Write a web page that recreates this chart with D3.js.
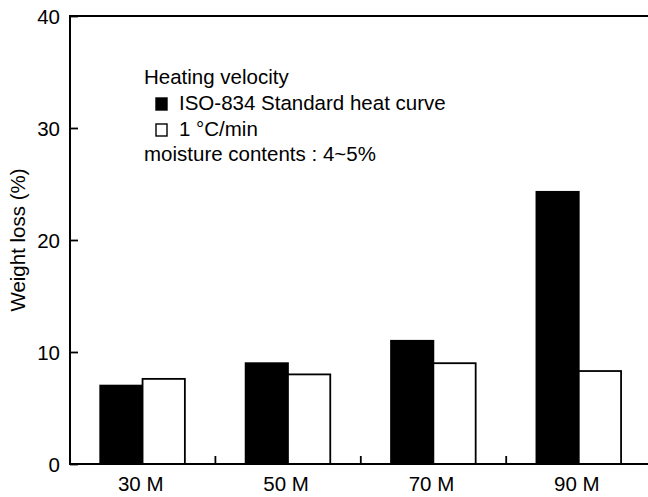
<!DOCTYPE html>
<html>
<head>
<meta charset="utf-8">
<script src="https://cdn.jsdelivr.net/npm/d3@7"></script>
<style>
  html, body { margin: 0; padding: 0; background: #fff; }
  svg { display: block; }
  text { font-family: "Liberation Sans", Arial, sans-serif; fill: #000; }
</style>
</head>
<body>
<svg id="chart" width="648" height="497"></svg>
<script>
// ---- data ----
const categories = ["30 M", "50 M", "70 M", "90 M"];
const seriesNames = ["ISO-834 Standard heat curve", "1 °C/min"];
const isoValues = [7.0, 9.0, 11.0, 24.3];
const slowValues = [7.6, 8.0, 9.0, 8.3];
const yTicks = [0, 10, 20, 30, 40];
const legendTitle = "Heating velocity";
const legendNote = "moisture contents : 4~5%";
const yTitle = "Weight loss (%)";

// ---- layout ----
const svg = d3.select("#chart");
const mLeft = 70, mRight = 651.6, mTop = 16, mBottom = 464;

const x0 = d3.scaleBand().domain(categories).range([mLeft, mRight]).paddingInner(0).paddingOuter(0);
const bw = x0.bandwidth();
const x1 = d3.scaleBand().domain(seriesNames).range([0.208 * bw, 0.79 * bw]).padding(0);
const y = d3.scaleLinear().domain([0, 40]).range([mBottom, mTop]);

const fills = ["#000", "#fff"];
const rows = categories.map((c, i) => ({ cat: c, vals: [isoValues[i], slowValues[i]] }));

// bars
const g = svg.append("g");
rows.forEach(r => {
  r.vals.forEach((v, j) => {
    g.append("rect")
      .attr("x", x0(r.cat) + x1(seriesNames[j]))
      .attr("y", y(v))
      .attr("width", x1.bandwidth())
      .attr("height", y(0) - y(v))
      .attr("fill", fills[j])
      .attr("stroke", "#000")
      .attr("stroke-width", 1.8);
  });
});

// y axis (ticks inward)
const yAxis = d3.axisRight(y).tickValues(yTicks).tickSize(8).tickFormat("");
const ya = svg.append("g").attr("transform", `translate(${mLeft},0)`).call(yAxis);
ya.select(".domain").remove();
ya.selectAll(".tick line").attr("stroke", "#000").attr("stroke-width", 1.8);

// y tick labels
svg.append("g").selectAll("text").data(yTicks).join("text")
  .attr("x", 60).attr("y", d => y(d) + 1)
  .attr("dy", "0.36em")
  .attr("text-anchor", "end")
  .style("font-size", "20.5px")
  .text(d => d);

// frame lines: left, bottom, top
svg.append("line").attr("x1", mLeft).attr("x2", mLeft).attr("y1", mTop).attr("y2", mBottom)
  .attr("stroke", "#000").attr("stroke-width", 2);
svg.append("line").attr("x1", mLeft - 1).attr("x2", 648).attr("y1", mBottom).attr("y2", mBottom)
  .attr("stroke", "#000").attr("stroke-width", 2);
svg.append("line").attr("x1", mLeft - 1).attr("x2", 648).attr("y1", mTop).attr("y2", mTop)
  .attr("stroke", "#000").attr("stroke-width", 2);

// x category boundary ticks (inward)
svg.append("g").selectAll("line").data(categories.slice(1)).join("line")
  .attr("x1", d => x0(d)).attr("x2", d => x0(d))
  .attr("y1", mBottom).attr("y2", mBottom - 8)
  .attr("stroke", "#000").attr("stroke-width", 1.8);

// x labels
svg.append("g").selectAll("text").data(categories).join("text")
  .attr("x", d => x0(d) + bw / 2 - 2)
  .attr("y", 491)
  .attr("text-anchor", "middle")
  .style("font-size", "20.5px")
  .text(d => d);

// y title
svg.append("text")
  .attr("transform", "translate(25,240) rotate(-90)")
  .attr("text-anchor", "middle")
  .style("font-size", "20.5px")
  .text(yTitle);

// legend
const lg = svg.append("g");
lg.append("text").attr("x", 144).attr("y", 84).style("font-size", "20.5px").text(legendTitle);
seriesNames.forEach((s, j) => {
  const by = 110 + j * 26;
  lg.append("rect").attr("x", 156).attr("y", by - 12).attr("width", 11).attr("height", 12)
    .attr("fill", fills[j]).attr("stroke", "#000").attr("stroke-width", 1.4);
  lg.append("text").attr("x", 179).attr("y", by).style("font-size", "20.5px").text(s);
});
lg.append("text").attr("x", 144).attr("y", 161).style("font-size", "20.5px").text(legendNote);
</script>
</body>
</html>
